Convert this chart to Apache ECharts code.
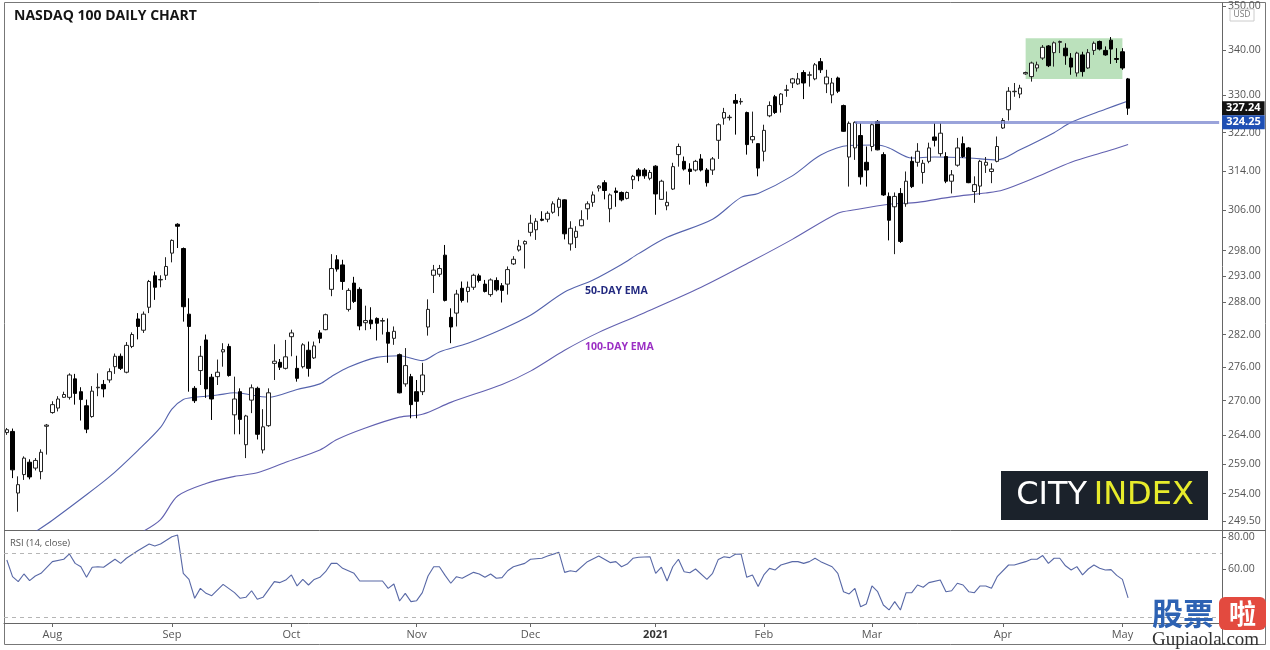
<!DOCTYPE html>
<html><head><meta charset="utf-8">
<script src="https://cdn.jsdelivr.net/npm/echarts@6/dist/echarts.min.js"></script>
<style>html,body{margin:0;padding:0;background:#fff}#c{width:1270px;height:650px}</style>
</head><body><div id="c"></div>
<script>
// ---- trading days (categories) ----
const monthDays = [
  ['2020-07',[22,23,24,27,28,29,30,31]],
  ['2020-08',[3,4,5,6,7,10,11,12,13,14,17,18,19,20,21,24,25,26,27,28,31]],
  ['2020-09',[1,2,3,4,8,9,10,11,14,15,16,17,18,21,22,23,24,25,28,29,30]],
  ['2020-10',[1,2,5,6,7,8,9,12,13,14,15,16,19,20,21,22,23,26,27,28,29,30]],
  ['2020-11',[2,3,4,5,6,9,10,11,12,13,16,17,18,19,20,23,24,25,27,30]],
  ['2020-12',[1,2,3,4,7,8,9,10,11,14,15,16,17,18,21,22,23,24,28,29,30,31]],
  ['2021-01',[4,5,6,7,8,11,12,13,14,15,19,20,21,22,25,26,27,28,29]],
  ['2021-02',[1,2,3,4,5,8,9,10,11,12,16,17,18,19,22,23,24,25,26]],
  ['2021-03',[1,2,3,4,5,8,9,10,11,12,15,16,17,18,19,22,23,24,25,26,29,30,31]],
  ['2021-04',[1,5,6,7,8,9,12,13,14,15,16,19,20,21,22,23,26,27,28,29,30]],
  ['2021-05',[3,4]]
];
const emptySlots = 16;

// ---- candles: [open, close, low, high] ----
const candles = [
[264.4,264.9,264.0,265.2],[264.6,258.0,256.6,265.1],[254.1,255.5,251.0,256.9],[257.2,260.0,256.3,260.3],
[259.3,256.8,256.4,259.8],[258.3,259.6,257.9,260.0],[257.7,261.0,256.4,261.5],[265.5,265.7,260.6,265.9],
[267.9,269.3,267.7,269.9],[268.7,270.3,268.1,270.8],[270.6,271.1,270.5,271.6],[270.6,274.6,270.2,274.9],
[273.9,271.3,269.3,274.8],[271.6,270.2,266.5,272.4],[269.1,265.0,264.3,270.2],[267.2,271.7,267.0,272.6],
[272.3,272.4,270.8,274.9],[272.9,272.1,270.6,273.7],[273.7,275.2,273.2,275.8],[276.1,278.0,274.8,278.5],
[278.0,275.8,275.5,278.5],[275.1,280.0,274.9,280.6],[279.8,282.0,279.5,282.4],[284.9,283.5,281.1,286.0],
[282.8,285.8,282.3,286.3],[287.1,292.0,286.0,292.3],[293.1,290.9,288.5,293.9],[292.3,292.4,290.9,293.2],
[293.2,294.9,292.3,296.7],[297.5,300.0,295.7,300.2],[303.2,302.8,298.5,303.4],[298.4,287.2,284.4,298.6],
[285.8,283.5,271.6,288.8],[272.2,270.0,269.6,272.6],[275.4,278.0,272.8,279.9],[281.0,272.1,270.5,282.0],
[274.2,270.3,266.6,274.8],[274.3,275.1,272.8,277.4],[278.8,279.2,276.1,280.4],[279.8,274.5,274.3,280.3],
[267.5,270.3,264.1,274.3],[271.6,266.7,264.1,272.2],[262.3,267.3,260.0,267.5],[270.1,272.3,267.8,272.9],
[272.2,264.1,263.2,272.5],[261.4,265.4,260.8,268.5],[265.6,271.4,265.4,272.2],[276.7,277.1,273.7,280.2],
[276.9,276.0,275.5,277.5],[275.8,277.9,275.6,281.0],[281.6,282.3,278.0,282.9],[275.8,274.0,273.4,278.1],
[276.1,280.1,275.8,280.4],[279.1,275.8,274.3,280.7],[277.7,279.9,277.5,280.7],[282.3,281.3,280.4,282.8],
[282.9,285.7,282.8,285.9],[290.5,294.5,289.2,297.3],[296.2,294.4,293.9,297.1],[295.2,292.0,290.4,296.2],
[286.7,290.3,286.3,290.7],[291.7,288.2,287.9,292.9],[290.5,283.6,282.8,290.9],[284.2,284.6,282.8,287.4],
[284.7,284.0,283.0,287.1],[285.0,284.1,280.9,285.2],[284.5,284.6,282.0,285.1],[282.4,280.4,276.8,285.0],
[281.3,282.6,280.1,283.5],[278.3,271.4,271.3,278.5],[273.0,276.3,272.5,279.5],[274.3,269.3,266.9,274.8],
[271.6,269.9,266.9,273.7],[271.6,274.6,271.0,276.8],[283.4,286.7,281.8,288.6],[293.2,294.2,289.8,295.2],
[293.4,294.5,292.9,295.2],[297.1,288.4,288.2,299.1],[285.2,283.4,280.4,286.9],[286.0,289.6,283.5,290.4],
[290.7,288.4,288.0,292.0],[290.1,290.9,288.0,292.0],[290.9,293.2,290.4,293.5],[293.1,292.2,291.8,293.5],
[291.5,290.1,289.9,292.3],[289.5,292.3,289.1,292.6],[292.2,290.4,290.1,292.8],[291.2,290.3,288.0,291.7],
[291.5,294.3,289.5,294.9],[295.4,296.3,295.2,296.9],[298.1,298.9,297.8,300.1],[299.3,299.8,294.5,300.0],
[301.6,303.4,300.8,305.1],[302.1,303.8,300.1,304.4],[304.2,304.0,303.8,305.8],[304.2,305.4,303.6,305.8],
[305.6,307.3,305.3,307.8],[306.6,308.2,304.8,308.6],[308.1,301.3,300.2,308.2],[299.3,302.4,298.0,303.8],
[300.6,301.8,298.5,302.8],[302.9,304.1,302.8,306.0],[306.3,307.3,304.1,307.8],[307.6,309.1,306.7,309.8],
[310.5,310.9,309.8,311.1],[311.6,310.0,308.2,312.1],[306.3,309.1,303.6,309.4],[309.9,309.6,306.7,310.6],
[309.6,308.1,307.8,309.8],[308.4,309.6,308.2,309.8],[312.2,312.9,310.3,313.2],[314.2,313.0,311.9,314.6],
[314.2,313.0,312.4,314.6],[312.5,313.7,312.1,314.2],[315.0,309.3,305.1,315.2],[308.2,311.9,308.1,312.2],
[306.9,307.6,306.0,309.8],[310.3,314.9,310.1,315.7],[317.4,319.1,314.9,319.7],[316.0,314.4,314.1,317.0],
[314.4,313.9,311.2,315.6],[314.2,316.0,313.9,316.3],[316.5,314.2,313.9,317.5],[314.2,311.6,310.8,314.6],
[314.2,316.5,313.2,316.9],[320.4,323.7,316.5,324.0],[325.1,326.3,323.7,327.3],[325.2,325.3,324.6,325.8],
[328.9,328.3,321.6,330.3],[328.6,328.7,328.0,329.4],[326.3,319.5,317.4,326.5],[320.5,321.2,319.8,326.5],
[319.7,314.6,312.9,319.8],[318.1,322.5,316.0,323.7],[325.6,327.8,325.3,328.7],[329.7,326.3,326.0,330.1],
[328.0,330.3,326.3,330.5],[331.1,331.2,329.7,332.3],[332.7,333.6,331.6,333.8],[332.5,333.6,332.3,334.9],
[335.0,332.7,329.2,335.5],[334.4,334.5,331.9,335.2],[333.6,336.7,333.3,337.1],[337.4,335.6,334.9,338.2],
[332.5,334.0,330.5,335.6],[330.1,332.7,328.3,333.8],[333.8,330.9,330.5,334.1],[327.8,322.3,322.2,328.0],
[316.9,324.0,310.8,324.4],[318.8,324.2,316.3,324.4],[321.4,312.8,311.2,324.0],[315.8,314.2,310.8,319.1],
[319.1,323.7,318.1,324.0],[324.4,318.4,318.3,324.7],[317.4,309.1,308.9,317.9],[308.8,304.0,300.0,309.6],
[306.7,308.8,297.3,309.6],[309.4,299.8,299.5,310.5],[307.3,311.9,306.7,313.9],[316.0,310.8,310.5,317.0],
[315.8,318.1,314.9,319.8],[313.7,315.6,311.4,316.3],[316.0,318.8,315.6,319.9],[321.1,320.4,319.1,324.0],
[317.6,321.9,317.0,324.0],[317.0,311.9,311.5,317.9],[311.9,313.2,309.4,314.2],[315.2,318.8,314.9,320.9],
[319.7,317.0,316.7,321.2],[318.8,311.6,311.5,319.0],[309.8,311.2,307.5,312.9],[310.9,316.0,309.1,316.3],
[315.2,315.8,313.6,316.9],[313.9,314.4,311.5,315.6],[316.0,319.1,315.8,321.2],[323.0,324.6,322.8,325.1],
[326.9,330.9,324.6,331.8],[330.8,330.9,329.7,332.7],[330.3,331.6,329.4,332.3],[334.7,335.0,334.5,335.2],
[334.1,337.1,333.0,337.4],[336.0,336.7,335.2,337.4],[338.2,340.6,337.8,341.1],[340.9,336.5,336.2,341.1],
[339.4,341.6,336.3,341.9],[341.7,341.9,339.3,342.1],[340.4,338.7,336.7,341.5],[338.2,336.2,334.5,339.3],
[334.9,339.3,334.1,339.6],[338.9,335.2,334.1,339.6],[336.0,339.4,335.8,340.2],[339.9,341.5,338.9,341.9],
[341.9,340.2,339.9,342.1],[339.9,338.9,338.7,340.8],[342.2,340.2,336.9,342.9],[338.1,337.9,337.1,340.4],
[339.6,336.0,335.6,340.4],[333.6,327.24,325.8,333.8]
];

// ---- moving averages: [barIndex, value] ----
const ema50 = [[5,247.7],[8,249.6],[13,253.1],[18,256.8],[23,261.3],[27,265.3],[29,268.5],[31,270.2],[33,270.6],
[37,271.0],[40,271.4],[46,270.6],[51,272.0],[55,273.0],[57,274.3],[60,276.0],[65,277.8],[69,278.1],[73,277.2],
[76,278.8],[81,280.4],[87,283.0],[92,285.6],[98,290.0],[103,292.3],[108,295.3],[111,297.4],[116,300.6],[124,304.2],
[129,308.6],[132,309.4],[138,313.0],[143,317.3],[148,319.3],[153,319.4],[155,318.8],[159,316.7],[163,316.9],
[169,316.7],[174,316.3],[178,318.4],[184,322.0],[187,324.2],[193,327.0],[197,328.8]];
const ema100 = [[24,247.8],[27,249.7],[30,253.6],[35,255.7],[40,256.9],[44,257.5],[49,259.3],[55,261.4],[58,263.2],
[63,265.2],[69,267.1],[73,267.6],[78,269.7],[87,272.9],[92,275.3],[98,279.1],[104,282.4],[111,285.6],[122,290.9],
[131,296.0],[138,300.2],[146,305.4],[149,306.1],[155,307.2],[160,307.6],[166,308.7],[172,309.5],[175,310.1],
[181,312.8],[187,315.8],[193,318.0],[197,319.5]];

// ---- RSI(14) vertices: [barIndex, value] ----
const rsi14 = [[0,65.6],[1,55.2],[2,52.1],[3,56.9],[4,52.7],[5,55.6],[6,57.3],[8,64.6],[10,66.1],[11,69.4],[12,63.5],
[13,61.4],[14,54.8],[15,61.1],[16,61.4],[17,61.1],[19,66.1],[20,63.5],[21,66.7],[23,71.4],[25,75.6],[26,74.4],[27,75.6],
[29,80.2],[30,81.2],[31,57.3],[32,53.5],[33,41.7],[34,47.9],[35,44.8],[36,43.3],[38,50.4],[40,45.2],[41,41.7],[42,42.3],
[43,46.4],[44,41.1],[45,42.3],[47,52.1],[48,51.5],[49,53.1],[50,56.3],[51,49.4],[52,53.5],[53,50.0],[54,53.5],[55,54.8],
[56,58.3],[57,63.5],[58,63.5],[59,60.4],[61,57.3],[62,52.5],[66,52.5],[67,47.9],[68,50.6],[69,40.0],[70,44.8],[71,39.6],
[72,40.2],[73,45.2],[74,55.6],[75,61.4],[76,61.4],[77,56.0],[78,51.1],[79,55.2],[80,54.2],[82,57.9],[83,56.9],[84,54.8],
[85,56.9],[86,54.2],[87,54.6],[88,58.9],[89,61.4],[91,63.5],[92,66.1],[94,66.7],[95,68.1],[97,70.4],[98,57.9],[99,58.9],
[100,58.3],[102,64.6],[104,68.1],[106,64.0],[107,64.6],[108,61.4],[109,63.1],[110,66.7],[111,67.3],[113,67.7],[114,57.3],
[115,61.1],[116,52.5],[117,61.4],[118,66.1],[119,58.3],[120,57.7],[121,60.0],[123,53.5],[124,57.3],[125,66.0],[126,67.7],
[127,67.1],[128,69.2],[129,69.4],[130,54.8],[131,56.3],[132,49.0],[133,56.3],[134,60.4],[135,59.4],[136,62.5],[138,64.6],
[139,64.6],[140,63.5],[141,64.6],[142,66.7],[143,64.6],[145,61.4],[146,57.3],[147,45.8],[148,44.4],[149,47.9],[150,36.4],
[151,38.1],[152,49.4],[153,45.8],[154,37.5],[155,34.4],[156,39.6],[157,34.4],[158,45.2],[159,45.2],[160,50.0],[161,48.6],
[162,51.5],[164,53.1],[165,45.8],[166,46.4],[167,51.1],[168,50.0],[169,45.8],[170,45.2],[171,49.4],[172,49.4],[173,47.9],
[174,55.2],[176,62.5],[177,62.5],[179,64.6],[180,66.1],[181,66.1],[182,68.4],[183,63.5],[184,66.7],[185,66.7],[186,62.0],
[187,59.4],[188,61.5],[189,56.3],[190,60.0],[191,62.5],[192,60.5],[193,59.4],[194,59.6],[195,56.0],[196,53.5],[197,42.0]];

// ---- axis ticks, levels ----
const priceTicks = [249.5,254,259,264,270,276,282,288,293,298,306,314,322,330,340,350];
const rsiTicks = [60,80];
const rsiBands = [70,30];
const resistance = 324.25;
const lastClose = 327.24;
const rangeBox = {from:179, to:196, high:342.65, low:333.6};
const resistanceFrom = 149;
const monthNames = ['Jan','Feb','Mar','Apr','May','Jun','Jul','Aug','Sep','Oct','Nov','Dec'];

// ---- build categories ----
const dates = [];
monthDays.forEach(([m, ds]) => ds.forEach(d => dates.push(m + '-' + String(d).padStart(2,'0'))));
const cats = dates.concat(Array.from({length: emptySlots}, (_, k) => 'pad' + k));
const monthStart = {};
for (let i = 1; i < dates.length; i++) {
  if (dates[i].slice(0,7) !== dates[i-1].slice(0,7)) {
    const mm = +dates[i].slice(5,7);
    monthStart[i] = mm === 1 ? '{y|' + dates[i].slice(0,4) + '}' : monthNames[mm-1];
  }
}
const isMonth = (i) => Object.prototype.hasOwnProperty.call(monthStart, i);

const chart = echarts.init(document.getElementById('c'), null, {renderer:'canvas', width:1270, height:650});
const AX = '#555';
const FONT = '"Open Sans", sans-serif';
const option = {
  animation: false,
  backgroundColor: '#ffffff',
  grid: [
    {left:4, top:3, width:1218, height:527},
    {left:4, top:531, width:1218, height:92}
  ],
  xAxis: [
    {type:'category', gridIndex:0, data:cats, boundaryGap:true,
     axisLine:{show:false}, axisTick:{show:false}, axisLabel:{show:false}, splitLine:{show:false}},
    {type:'category', gridIndex:1, data:cats, boundaryGap:true,
     axisLine:{show:true, lineStyle:{color:'#666'}},
     axisTick:{show:true, interval:(i)=>isMonth(i), alignWithLabel:true, length:4, lineStyle:{color:'#666'}},
     axisLabel:{interval:(i)=>isMonth(i), formatter:(v,i)=>monthStart[i]||'', color:AX, fontSize:11,
       fontFamily:FONT, margin:6, rich:{y:{fontWeight:'bold', color:'#333', fontSize:11, fontFamily:FONT}}},
     splitLine:{show:false}}
  ],
  yAxis: [
    {type:'log', gridIndex:0, position:'right', min:248.0, max:350.66, logBase:10,
     axisLine:{show:true, lineStyle:{color:'#666'}},
     axisTick:{show:true, customValues:priceTicks, length:4, lineStyle:{color:'#666'}},
     axisLabel:{customValues:priceTicks, formatter:(v)=>Number(v).toFixed(2), color:AX, fontSize:10.5,
       fontFamily:FONT, margin:6},
     splitLine:{show:false}},
    {type:'value', gridIndex:1, position:'right', min:26.25, max:83.75,
     axisLine:{show:true, lineStyle:{color:'#666'}},
     axisTick:{show:true, customValues:rsiTicks, length:4, lineStyle:{color:'#666'}},
     axisLabel:{customValues:rsiTicks, formatter:(v)=>Number(v).toFixed(2), color:AX, fontSize:10.5,
       fontFamily:FONT, margin:6},
     splitLine:{show:false}}
  ],
  series: [
    {type:'line', name:'EMA100', xAxisIndex:0, yAxisIndex:0, data:ema100, showSymbol:false, smooth:0.3,
     lineStyle:{color:'#6261b0', width:1.1}, z:1},
    {type:'line', name:'EMA50', xAxisIndex:0, yAxisIndex:0, data:ema50, showSymbol:false, smooth:0.3,
     lineStyle:{color:'#5563ad', width:1.1}, z:1,
     markLine:{symbol:'none', silent:true, animation:false,
       lineStyle:{color:'rgba(255,255,255,0)', width:1, type:'solid'},
       label:{show:true, position:'end', distance:0, formatter:lastClose.toFixed(2), color:'#fff', fontWeight:'bold',
         fontSize:11, fontFamily:FONT, backgroundColor:'#111111', padding:[2,4,1,4]},
       data:[{yAxis:lastClose}]}},
    {type:'candlestick', xAxisIndex:0, yAxisIndex:0, data:candles, barWidth:4, z:3,
     itemStyle:{color:'#ffffff', color0:'#000000', borderColor:'#222222', borderColor0:'#000000', borderWidth:1},
     markLine:{symbol:'none', silent:true, animation:false,
       lineStyle:{color:'rgba(120,132,205,0.75)', width:3, type:'solid'},
       label:{show:true, position:'end', distance:3, formatter:resistance.toFixed(2), color:'#fff', fontWeight:'bold',
         fontSize:11, fontFamily:FONT, backgroundColor:'#1e4fb4', padding:[2,4,1,4]},
       data:[[{coord:[resistanceFrom, resistance]}, {coord:[cats.length-1, resistance]}]]}},
    {type:'line', name:'box', xAxisIndex:0, yAxisIndex:0, data:[[rangeBox.from, rangeBox.low]], showSymbol:false,
     lineStyle:{opacity:0}, z:6,
     markArea:{silent:true, itemStyle:{color:'rgba(76,175,80,0.38)'},
       data:[[{coord:[rangeBox.from, rangeBox.high]}, {coord:[rangeBox.to, rangeBox.low]}]]}},
    {type:'line', name:'RSI', xAxisIndex:1, yAxisIndex:1, data:rsi14, showSymbol:false,
     lineStyle:{color:'#5868a6', width:1.1},
     markLine:{symbol:'none', silent:true, label:{show:false},
       lineStyle:{color:'#b5b5b5', type:[4,4], width:1},
       data:rsiBands.map(v=>({yAxis:v}))}}
  ],
  graphic: [
    {type:'rect', shape:{x:4.5, y:2.5, width:1261, height:642}, style:{fill:'none', stroke:'#777', lineWidth:1}, silent:true},
    {type:'line', shape:{x1:4, y1:530.5, x2:1266, y2:530.5}, style:{stroke:'#666', lineWidth:1}, silent:true},
    {type:'line', shape:{x1:1222.5, y1:623, x2:1222.5, y2:645}, style:{stroke:'#666', lineWidth:1}, silent:true},
    {type:'text', left:14, top:9, style:{text:'NASDAQ 100 DAILY CHART', fill:'#151515',
      font:'bold 14px "Open Sans", sans-serif'}},
    {type:'rect', shape:{x:1230, y:9, width:24, height:12}, style:{fill:'#fff', stroke:'#ccc', lineWidth:1}, z:100},
    {type:'text', x:1242, y:15, z:101, style:{text:'USD', fill:'#777', font:'8.5px "Open Sans", sans-serif', align:'center', verticalAlign:'middle'}},
    {type:'text', x:585, y:291, style:{text:'50-DAY EMA', fill:'#232a80', font:'bold 10.5px "Open Sans", sans-serif', verticalAlign:'middle'}},
    {type:'text', x:585, y:347, style:{text:'100-DAY EMA', fill:'#9b2fc4', font:'bold 10.5px "Open Sans", sans-serif', verticalAlign:'middle'}},
    {type:'text', x:10, y:543, style:{text:'RSI (14, close)', fill:'#555', font:'9.5px "Open Sans", sans-serif', verticalAlign:'middle'}},
    {type:'rect', shape:{x:1001, y:471, width:207, height:49}, style:{fill:'#1b222b'}, z:50},
    {type:'text', x:1105, y:496, z:51, style:{text:'{a|CITY}  {b|INDEX}', align:'center', verticalAlign:'middle',
      rich:{a:{fill:'#ffffff', font:'32px "DejaVu Sans", sans-serif'}, b:{fill:'#e7eb2b', font:'32px "DejaVu Sans", sans-serif'}}}},
    {type:'text', x:1152, y:613, z:60, style:{text:'股票', fill:'#2d62b3', font:'bold 31px "Noto Sans CJK SC", sans-serif', verticalAlign:'middle'}},
    {type:'rect', shape:{x:1219, y:597, width:47, height:33, r:6}, style:{fill:'#e34a3f'}, z:60},
    {type:'text', x:1242.5, y:613.5, z:61, style:{text:'啦', fill:'#ffffff', font:'bold 27px "Noto Sans CJK SC", sans-serif', align:'center', verticalAlign:'middle'}},
    {type:'text', x:1152, y:640, z:60, style:{text:'Gupiaola.com', fill:'#333', font:'19px "Liberation Serif", serif', verticalAlign:'middle'}}
  ]
};
chart.setOption(option);
</script>
</body></html>
